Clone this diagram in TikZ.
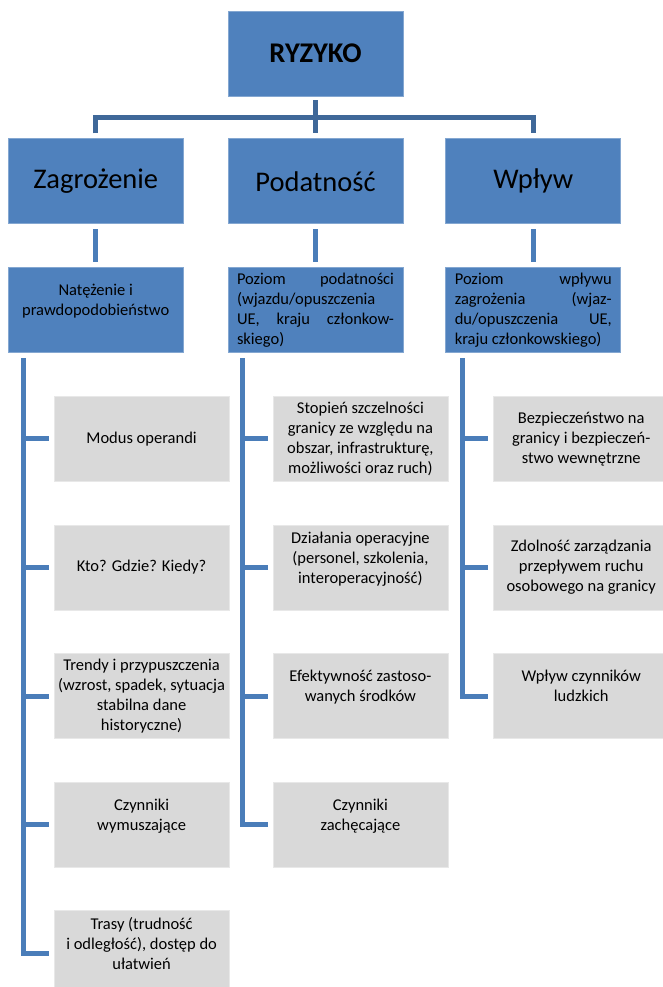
\documentclass[tikz,border=0pt]{standalone}
\usepackage{fontspec}
\setmainfont{Carlito}
\usetikzlibrary{positioning}
\usepackage{xcolor}
\definecolor{BoxBlue}{HTML}{4F81BD}
\definecolor{BoxGray}{HTML}{D9D9D9}
\definecolor{LineDark}{HTML}{3F6899}
\definecolor{LineBlue}{HTML}{4A7DB9}
\tolerance=10000
\hyphenpenalty=10000
\tikzset{
  bbox/.style={fill=BoxBlue, draw=BoxBlue!70!white, line width=0.8pt, align=center,
    minimum width=175pt, minimum height=85pt, inner sep=2pt,
    font=\fontsize{28.5}{34}\selectfont},
  mbox/.style={fill=BoxBlue, draw=BoxBlue!70!white, line width=0.8pt, align=center,
    minimum width=175pt, minimum height=85pt, inner sep=2pt,
    font=\fontsize{16.5}{20}\selectfont},
  jbox/.style={mbox, text width=157pt, align=justify},
  gbox/.style={fill=BoxGray, draw=BoxGray!60!white, line width=0.6pt, align=center,
    minimum width=175pt, minimum height=85pt, inner sep=2pt,
    font=\fontsize{16.5}{20}\selectfont},
  tline/.style={draw=LineDark, line width=5.5pt},
  sline/.style={draw=LineBlue, line width=5pt},
}
\begin{document}
\begin{tikzpicture}[x=1pt, y=-1pt, node distance=43pt and 43pt]
    \useasboundingbox (0,0) rectangle (662,987);
    % top levels
    \node[bbox, font=\fontsize{28.5}{34}\selectfont\bfseries] (ryzyko) at (315.5,53.5) {RYZYKO};
    \node[bbox, below=42pt of ryzyko] (pod) {Podatność};
    \node[bbox, left=44pt of pod] (zag) {Zagrożenie};
    \node[bbox, right=42pt of pod] (wpl) {Wpływ};
    \node[mbox, below=of zag] (zagpoz) {Natężenie i\\prawdopodobieństwo\\ \mbox{}};
    \node[jbox, below=of pod] (podpoz) {Poziom podatności\linebreak (wjazdu/opuszczenia\linebreak UE, kraju członkow-\linebreak skiego)};
    \node[jbox, below=of wpl] (wplpoz) {Poziom wpływu\linebreak zagrożenia (wjaz-\linebreak du/opuszczenia UE,\linebreak kraju członkowskiego)};
    % zagrozenie list
    \node[gbox, anchor=north west] (zag1) at ([xshift=46pt, yshift=-43pt]zagpoz.south west) {Modus operandi};
    \node[gbox, below=of zag1] (zag2) {Kto? Gdzie? Kiedy?};
    \node[gbox, below=of zag2] (zag3) {Trendy i przypuszczenia\\(wzrost, spadek, sytuacja\\stabilna dane\\historyczne)};
    \node[gbox, below=of zag3] (zag4) {Czynniki\\wymuszające\\ \mbox{}};
    \node[gbox, below=of zag4] (zag5) {Trasy (trudność\\i odległość), dostęp do\\ułatwień\\ \mbox{}};
    % podatnosc list
    \node[gbox, anchor=north west] (pod1) at ([xshift=45pt, yshift=-43pt]podpoz.south west) {Stopień szczelności\\granicy ze względu na\\obszar, infrastrukturę,\\możliwości oraz ruch)};
    \node[gbox, below=of pod1] (pod2) {Działania operacyjne\\(personel, szkolenia,\\interoperacyjność)\\ \mbox{}};
    \node[gbox, below=of pod2] (pod3) {Efektywność zastoso-\\wanych środków\\ \mbox{}};
    \node[gbox, below=of pod3] (pod4) {Czynniki\\zachęcające\\ \mbox{}};
    % wplyw list
    \node[gbox, anchor=north west] (wpl1) at ([xshift=48pt, yshift=-43pt]wplpoz.south west) {Bezpieczeństwo na\\granicy i bezpieczeń-\\stwo wewnętrzne};
    \node[gbox, below=of wpl1] (wpl2) {Zdolność zarządzania\\przepływem ruchu\\osobowego na granicy};
    \node[gbox, below=of wpl2] (wpl3) {Wpływ czynników\\ludzkich\\ \mbox{}};
    % connectors
    \coordinate (bar) at ([yshift=-21pt]ryzyko.south);
    \draw[tline] ([yshift=-4pt]ryzyko.south) -- (bar);
    \draw[tline] ([yshift=5pt]zag.north) |- (bar) -| ([yshift=5pt]wpl.north);
    \draw[tline] (bar) -- ([yshift=5pt]pod.north);
    \foreach \a/\b in {zag/zagpoz, pod/podpoz, wpl/wplpoz}
      \draw[sline] ([yshift=-5pt]\a.south) -- ([yshift=5pt]\b.north);
    \coordinate (zagsp) at ([xshift=16pt, yshift=-5pt]zagpoz.south west);
    \coordinate (podsp) at ([xshift=15pt, yshift=-5pt]podpoz.south west);
    \coordinate (wplsp) at ([xshift=17pt, yshift=-5pt]wplpoz.south west);
    \draw[sline] (zagsp) |- ([xshift=-5pt]zag5.west);
    \draw[sline] (podsp) |- ([xshift=-5pt]pod4.west);
    \draw[sline] (wplsp) |- ([xshift=-5pt]wpl3.west);
    \foreach \i in {1,...,4}
      \draw[sline] (zagsp |- zag\i.west) -- ([xshift=-5pt]zag\i.west);
    \foreach \i in {1,...,3}
      \draw[sline] (podsp |- pod\i.west) -- ([xshift=-5pt]pod\i.west);
    \foreach \i in {1,2}
      \draw[sline] (wplsp |- wpl\i.west) -- ([xshift=-5pt]wpl\i.west);
\end{tikzpicture}
\end{document}
